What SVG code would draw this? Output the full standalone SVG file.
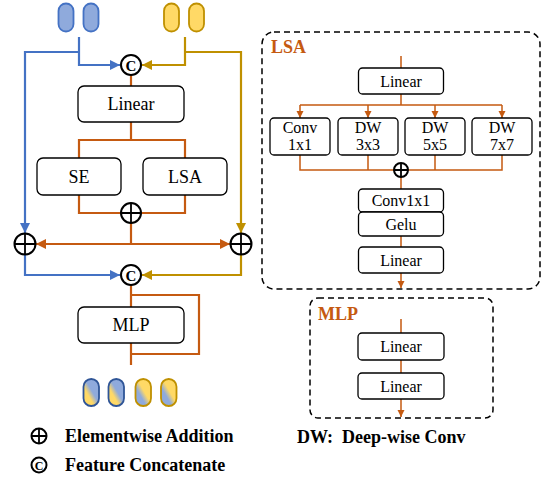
<svg xmlns="http://www.w3.org/2000/svg" width="545" height="481" viewBox="0 0 545 481" font-family="Liberation Serif, Times New Roman, serif">
<defs>
<style>
.box{fill:#fff;stroke:#000;stroke-width:1.3}
.t{fill:#000;text-anchor:middle}
.b{font-weight:bold;fill:#000}
.ob{font-weight:bold;fill:#C55A11;font-size:18px}
.bl{fill:none;stroke:#4472C4;stroke-width:2.2}
.yl{fill:none;stroke:#BF9000;stroke-width:2.2}
.ol{fill:none;stroke:#C55A11;stroke-width:2.2}
.os{fill:none;stroke:#C55A11;stroke-width:1.5}
.dash{fill:none;stroke:#000;stroke-width:1.5;stroke-dasharray:6 4}
.circ{fill:#fff;stroke:#000;stroke-width:2}
.cross{stroke:#000;stroke-width:1.8}
.pb{fill:#8FAADC;stroke:#4472C4;stroke-width:1.8}
.py{fill:#FFD966;stroke:#BF9000;stroke-width:1.8}
</style>
<marker id="ab" markerUnits="userSpaceOnUse" markerWidth="12" markerHeight="12" refX="10" refY="5" orient="auto"><path d="M0,0 L10,5 L0,10 Z" fill="#4472C4"/></marker>
<marker id="ay" markerUnits="userSpaceOnUse" markerWidth="12" markerHeight="12" refX="10" refY="5" orient="auto"><path d="M0,0 L10,5 L0,10 Z" fill="#BF9000"/></marker>
<marker id="ao" markerUnits="userSpaceOnUse" markerWidth="12" markerHeight="12" refX="10" refY="5" orient="auto"><path d="M0,0 L10,5 L0,10 Z" fill="#C55A11"/></marker>
<marker id="aos" markerUnits="userSpaceOnUse" markerWidth="8" markerHeight="8" refX="7" refY="3.5" orient="auto"><path d="M0,0 L7,3.5 L0,7 Z" fill="#C55A11"/></marker>
<linearGradient id="gby" x1="1" y1="0" x2="0" y2="1"><stop offset="0" stop-color="#8FAADC"/><stop offset="0.45" stop-color="#8FAADC"/><stop offset="0.65" stop-color="#FFD966"/><stop offset="1" stop-color="#FFD966"/></linearGradient>
<linearGradient id="gyb" x1="1" y1="0" x2="0" y2="1"><stop offset="0" stop-color="#FFD966"/><stop offset="0.45" stop-color="#FFD966"/><stop offset="0.65" stop-color="#8FAADC"/><stop offset="1" stop-color="#8FAADC"/></linearGradient>
</defs>
<rect width="545" height="481" fill="#fff"/>

<g id="connectors">
<path class="bl" d="M79,37 V65 H120" marker-end="url(#ab)"/>
<path class="bl" d="M79,52 H25 V233" marker-end="url(#ab)"/>
<path class="yl" d="M185,37 V65 H142" marker-end="url(#ay)"/>
<path class="yl" d="M185,52 H241 V233" marker-end="url(#ay)"/>
<path class="ol" d="M131,75 V86"/>
<path class="ol" d="M131,122 V140 M79,158 V140 H185 V158"/>
<path class="ol" d="M79,195 V213 H185 V195"/>
<path class="ol" d="M131,223 V244"/>
<path class="ol" d="M131,244 H36" marker-end="url(#ao)"/>
<path class="ol" d="M131,244 H230" marker-end="url(#ao)"/>
<path class="bl" d="M25,254 V275 H120" marker-end="url(#ab)"/>
<path class="yl" d="M241,254 V275 H142" marker-end="url(#ay)"/>
<path class="ol" d="M131,285 V307 M131,295 H199 V354 H131 M131,343 V365"/>
<path class="os" d="M401,56 V68 M401,94 V105 M300,105 H502"/>
<path class="os" d="M300,105 V118" marker-end="url(#aos)"/>
<path class="os" d="M368,105 V118" marker-end="url(#aos)"/>
<path class="os" d="M435,105 V118" marker-end="url(#aos)"/>
<path class="os" d="M502,105 V118" marker-end="url(#aos)"/>
<path class="os" d="M300,155 V170 H502 V155 M368,155 V170 M435,155 V170 M401,170 V189 M401,236 V247"/>
<path class="os" d="M401,273 V288" marker-end="url(#aos)"/>
<path class="os" d="M401,319 V333 M401,360 V373"/>
<path class="os" d="M401,399 V417" marker-end="url(#aos)"/>
</g>

<g id="input-blue">
<rect class="pb" x="58.5" y="3.5" width="15" height="28" rx="7.5"/>
<rect class="pb" x="83.5" y="3.5" width="15" height="28" rx="7.5"/>
</g>
<g id="input-yellow">
<rect class="py" x="164" y="3.5" width="15" height="28" rx="7.5"/>
<rect class="py" x="189" y="3.5" width="15" height="28" rx="7.5"/>
</g>

<g id="concat1"><circle class="circ" cx="131" cy="65" r="10"/><text class="b" x="131" y="70.5" font-size="15" text-anchor="middle">C</text></g>
<g id="linear"><rect class="box" x="78" y="86" width="106" height="36" rx="6"/><text class="t" x="131" y="110" font-size="18">Linear</text></g>
<g id="se"><rect class="box" x="37" y="158" width="84" height="37" rx="6"/><text class="t" x="79" y="183" font-size="18">SE</text></g>
<g id="lsa"><rect class="box" x="143" y="158" width="84" height="37" rx="6"/><text class="t" x="185" y="183" font-size="18">LSA</text></g>
<g id="add1"><circle class="circ" cx="131" cy="213" r="10"/><path class="cross" d="M121,213 H141 M131,203 V223"/></g>
<g id="add-left"><circle class="circ" cx="25" cy="244" r="10.5"/><path class="cross" d="M14.5,244 H35.5 M25,233.5 V254.5"/></g>
<g id="add-right"><circle class="circ" cx="241" cy="244" r="10.5"/><path class="cross" d="M230.5,244 H251.5 M241,233.5 V254.5"/></g>
<g id="concat2"><circle class="circ" cx="131" cy="275" r="10"/><text class="b" x="131" y="280.5" font-size="15" text-anchor="middle">C</text></g>
<g id="mlp"><rect class="box" x="78" y="307" width="106" height="36" rx="6"/><text class="t" x="131" y="331" font-size="18">MLP</text></g>

<g id="outputs">
<rect x="83.5" y="379" width="15.5" height="27" rx="7.7" fill="url(#gby)" stroke="#2F5597" stroke-width="1.8"/>
<rect x="108.5" y="379" width="15.5" height="27" rx="7.7" fill="url(#gby)" stroke="#2F5597" stroke-width="1.8"/>
<rect x="135.5" y="379" width="15.5" height="27" rx="7.7" fill="url(#gyb)" stroke="#BF9000" stroke-width="1.8"/>
<rect x="161" y="379" width="15.5" height="27" rx="7.7" fill="url(#gyb)" stroke="#BF9000" stroke-width="1.8"/>
</g>

<g id="legend">
<circle class="circ" cx="39" cy="436" r="7.5" stroke-width="1.6"/><path class="cross" stroke-width="1.5" d="M31.5,436 H46.5 M39,428.5 V443.5"/>
<text class="b" x="65" y="442" font-size="18">Elementwise Addition</text>
<circle class="circ" cx="39" cy="465" r="7.5" stroke-width="1.6"/><text class="b" x="39" y="469.5" font-size="12" text-anchor="middle">C</text>
<text class="b" x="65" y="471" font-size="18">Feature Concatenate</text>
</g>

<g id="lsa-detail">
<rect class="dash" x="262" y="32" width="278" height="257" rx="12"/>
<text class="ob" x="271" y="53">LSA</text>
</g>
<g id="lsa-linear"><rect class="box" x="358.5" y="68" width="85" height="26" rx="4"/><text class="t" x="401" y="87" font-size="16">Linear</text></g>
<g id="conv1"><rect class="box" x="270" y="118" width="60" height="37" rx="4"/><text class="t" x="300" y="133" font-size="16">Conv</text><text class="t" x="300" y="150" font-size="16">1x1</text></g>
<g id="dw3"><rect class="box" x="338" y="118" width="60" height="37" rx="4"/><text class="t" x="368" y="133" font-size="16">DW</text><text class="t" x="368" y="150" font-size="16">3x3</text></g>
<g id="dw5"><rect class="box" x="405" y="118" width="60" height="37" rx="4"/><text class="t" x="435" y="133" font-size="16">DW</text><text class="t" x="435" y="150" font-size="16">5x5</text></g>
<g id="dw7"><rect class="box" x="472" y="118" width="60" height="37" rx="4"/><text class="t" x="502" y="133" font-size="16">DW</text><text class="t" x="502" y="150" font-size="16">7x7</text></g>
<g id="lsa-add"><circle class="circ" cx="401" cy="170" r="7" stroke-width="1.6"/><path class="cross" stroke-width="1.5" d="M394,170 H408 M401,163 V177"/></g>
<g id="conv1x1"><rect class="box" x="358.5" y="189" width="85" height="23" rx="4"/><text class="t" x="401" y="206" font-size="16">Conv1x1</text></g>
<g id="gelu"><rect class="box" x="358.5" y="212" width="85" height="24" rx="4"/><text class="t" x="401" y="229.5" font-size="16">Gelu</text></g>
<g id="lsa-linear2"><rect class="box" x="358.5" y="247" width="85" height="26" rx="4"/><text class="t" x="401" y="265.5" font-size="16">Linear</text></g>

<g id="mlp-detail">
<rect class="dash" x="310" y="298" width="183" height="120" rx="8"/>
<text class="ob" x="318" y="320">MLP</text>
</g>
<g id="mlp-linear1"><rect class="box" x="358" y="333" width="86" height="27" rx="4"/><text class="t" x="401" y="352" font-size="16">Linear</text></g>
<g id="mlp-linear2"><rect class="box" x="358" y="373" width="86" height="26" rx="4"/><text class="t" x="401" y="391.5" font-size="16">Linear</text></g>

<g id="dw-note"><text class="b" x="297" y="443" font-size="18" xml:space="preserve">DW:  Deep-wise Conv</text></g>
</svg>
